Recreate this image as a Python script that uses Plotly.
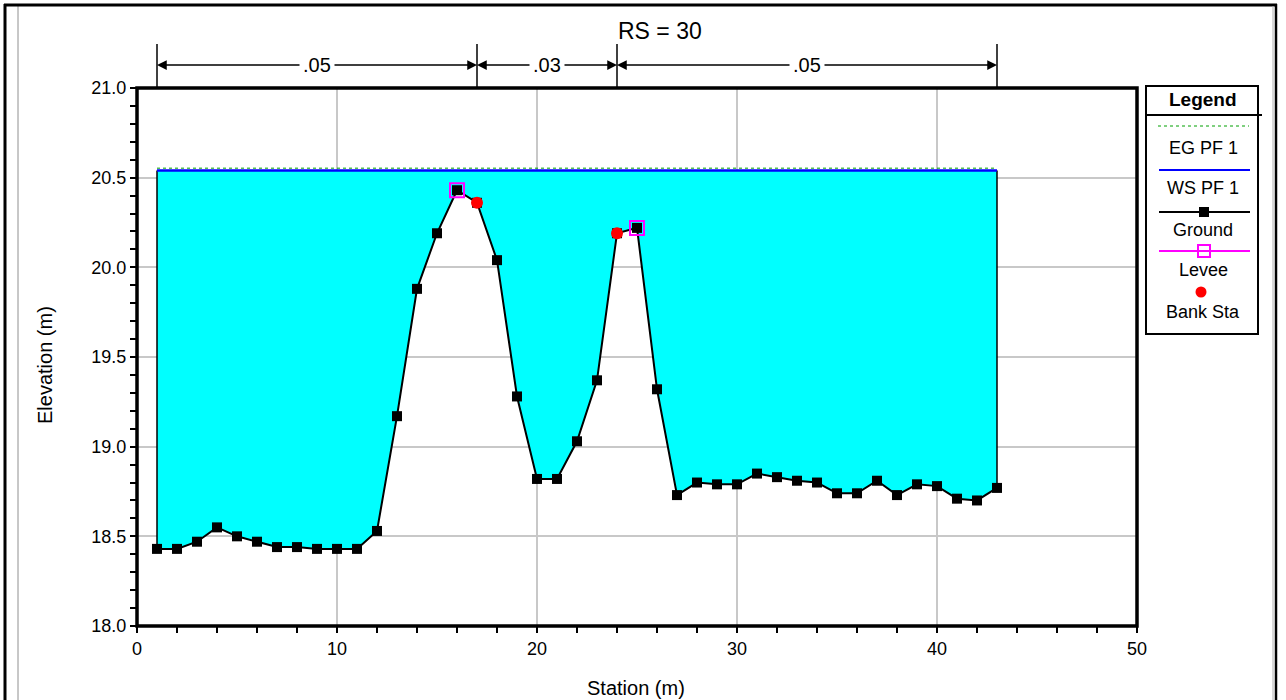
import plotly.graph_objects as go

# ---------------- data ----------------
station = list(range(1, 44))
ground = [18.43, 18.43, 18.47, 18.55, 18.50, 18.47, 18.44, 18.44, 18.43, 18.43,
          18.43, 18.53, 19.17, 19.88, 20.19, 20.43, 20.36, 20.04, 19.28, 18.82,
          18.82, 19.03, 19.37, 20.19, 20.22, 19.32, 18.73, 18.80, 18.79, 18.79,
          18.85, 18.83, 18.81, 18.80, 18.74, 18.74, 18.81, 18.73, 18.79, 18.78,
          18.71, 18.70, 18.77]
ws_elev = 20.54
eg_elev = 20.553
levee_sta = [16, 25]
levee_elev = [20.43, 20.22]
bank_sta = [17, 24]
bank_elev = [20.36, 20.19]
n_breaks = [1, 17, 24, 43]
n_values = [".05", ".03", ".05"]
title_text = "RS = 30"
legend_labels = ["EG PF 1", "WS PF 1", "Ground", "Levee", "Bank Sta"]

FONT = "Liberation Sans, Arial, sans-serif"
W, H = 1286, 700
L, R, T, B = 137, 149, 88, 74
PW, PH = W - L - R, H - T - B


def PX(px):
    return (px - L) / PW


def PY(py):
    return (H - B - py) / PH


fig = go.Figure()

# fill between water surface and ground
fig.add_trace(go.Scatter(x=station, y=[ws_elev] * len(station), mode="lines",
                         line=dict(width=0, color="rgba(0,0,0,0)"),
                         hoverinfo="skip", showlegend=False))
fig.add_trace(go.Scatter(x=station, y=ground, mode="lines", fill="tonexty",
                         fillcolor="#00FFFF", line=dict(width=0, color="rgba(0,0,0,0)"),
                         hoverinfo="skip", showlegend=False))
# end walls
fig.add_trace(go.Scatter(x=[station[0], station[0], None, station[-1], station[-1]],
                         y=[ground[0], ws_elev, None, ground[-1], ws_elev],
                         mode="lines", line=dict(color="black", width=1.5),
                         showlegend=False))
# EG
fig.add_trace(go.Scatter(x=[station[0], station[-1]], y=[eg_elev, eg_elev], mode="lines",
                         line=dict(color="#00A000", width=1, dash="dot"),
                         name=legend_labels[0], showlegend=False))
# WS
fig.add_trace(go.Scatter(x=[station[0], station[-1]], y=[ws_elev, ws_elev], mode="lines",
                         line=dict(color="#0000FF", width=2.5),
                         name=legend_labels[1], showlegend=False))
# Ground
fig.add_trace(go.Scatter(x=station, y=ground, mode="lines+markers",
                         line=dict(color="black", width=2),
                         marker=dict(symbol="square", size=10, color="black"),
                         name=legend_labels[2], showlegend=False))
# Levee
fig.add_trace(go.Scatter(x=levee_sta, y=levee_elev, mode="markers",
                         marker=dict(symbol="square-open", size=14, color="#FF00FF",
                                     line=dict(width=2, color="#FF00FF")),
                         name=legend_labels[3], showlegend=False))
# Bank stations
fig.add_trace(go.Scatter(x=bank_sta, y=bank_elev, mode="markers",
                         marker=dict(symbol="circle", size=12, color="#FF0000"),
                         name=legend_labels[4], showlegend=False))

shapes = []
annotations = []


def text_ann(x, y, text, size, xref="paper", **kw):
    d = dict(x=x, y=y, xref=xref, yref="paper", text=text, showarrow=False,
             xanchor="center", yanchor="middle",
             font=dict(family=FONT, size=size, color="black"))
    d.update(kw)
    return d


# Manning's n reach markers
y_arrow = PY(65)
for s in n_breaks:
    shapes.append(dict(type="line", xref="x", yref="paper", x0=s, x1=s,
                       y0=1.0, y1=PY(44), line=dict(color="black", width=1.5)))
for i, val in enumerate(n_values):
    a, b = n_breaks[i], n_breaks[i + 1]
    mid = (a + b) / 2
    for tip in (a, b):
        annotations.append(dict(x=tip, y=y_arrow, xref="x", yref="paper",
                                ax=mid, ay=0, axref="x", ayref="pixel",
                                text="", showarrow=True, arrowhead=2, arrowsize=1.3,
                                arrowwidth=1.5, arrowcolor="black", standoff=0))
    annotations.append(text_ann(mid, y_arrow, val, 20, xref="x", bgcolor="white",
                                borderpad=3))

# title
annotations.append(text_ann(PX(660), PY(31), title_text, 23))
# axis titles
annotations.append(text_ann(PX(636), PY(688), "Station (m)", 20))
annotations.append(text_ann(PX(45), PY(365), "Elevation (m)", 20, textangle=-90))

# plot frame
shapes.append(dict(type="rect", xref="paper", yref="paper", x0=0, x1=1, y0=0, y1=1,
                   line=dict(color="black", width=3.5), layer="above"))

# outer figure border
shapes.append(dict(type="line", xref="paper", yref="paper", x0=PX(5), x1=PX(5),
                   y0=PY(4), y1=PY(700), line=dict(color="black", width=3)))
shapes.append(dict(type="line", xref="paper", yref="paper", x0=PX(18), x1=PX(18),
                   y0=PY(6), y1=PY(700), line=dict(color="#909090", width=1)))
shapes.append(dict(type="line", xref="paper", yref="paper", x0=PX(4), x1=PX(1277),
                   y0=PY(5), y1=PY(5), line=dict(color="black", width=3)))
shapes.append(dict(type="line", xref="paper", yref="paper", x0=PX(1276), x1=PX(1276),
                   y0=PY(4), y1=PY(700), line=dict(color="black", width=2.5)))
shapes.append(dict(type="line", xref="paper", yref="paper", x0=PX(1273), x1=PX(1273),
                   y0=PY(6), y1=PY(700), line=dict(color="#b0b0b0", width=1)))

# legend box
shapes.append(dict(type="rect", xref="paper", yref="paper", x0=PX(1146), x1=PX(1258),
                   y0=PY(334), y1=PY(86), line=dict(color="black", width=2)))
shapes.append(dict(type="line", xref="paper", yref="paper", x0=PX(1146), x1=PX(1262),
                   y0=PY(115), y1=PY(115), line=dict(color="black", width=2)))
annotations.append(text_ann(PX(1203), PY(100), "<b>Legend</b>", 19))
# EG
shapes.append(dict(type="line", xref="paper", yref="paper", x0=PX(1158), x1=PX(1249),
                   y0=PY(126), y1=PY(126), line=dict(color="#00A000", width=1, dash="dot")))
# WS
shapes.append(dict(type="line", xref="paper", yref="paper", x0=PX(1159), x1=PX(1250),
                   y0=PY(170), y1=PY(170), line=dict(color="#0000FF", width=2)))
# Ground
shapes.append(dict(type="line", xref="paper", yref="paper", x0=PX(1159), x1=PX(1250),
                   y0=PY(212), y1=PY(212), line=dict(color="black", width=2)))
shapes.append(dict(type="rect", xref="paper", yref="paper", x0=PX(1199), x1=PX(1209),
                   y0=PY(217), y1=PY(207), fillcolor="black", line=dict(color="black", width=0)))
# Levee
shapes.append(dict(type="line", xref="paper", yref="paper", x0=PX(1159), x1=PX(1250),
                   y0=PY(251), y1=PY(251), line=dict(color="#FF00FF", width=2)))
shapes.append(dict(type="rect", xref="paper", yref="paper", x0=PX(1198), x1=PX(1210),
                   y0=PY(257), y1=PY(245), line=dict(color="#FF00FF", width=2)))
# Bank Sta
shapes.append(dict(type="circle", xref="paper", yref="paper", x0=PX(1195.5), x1=PX(1206.5),
                   y0=PY(297.5), y1=PY(286.5), fillcolor="#FF0000", line=dict(color="#FF0000", width=0)))

legend_text_y = [148, 188, 230, 270, 312]
for lab, ty in zip(legend_labels, legend_text_y):
    annotations.append(text_ann(PX(1203), PY(ty), lab, 18))

fig.update_layout(
    width=W, height=H,
    margin=dict(l=L, r=R, t=T, b=B, pad=0),
    paper_bgcolor="white", plot_bgcolor="white",
    font=dict(family=FONT, size=18, color="black"),
    showlegend=False,
    shapes=shapes,
    annotations=annotations,
    xaxis=dict(range=[0, 50], dtick=10, tick0=0, showgrid=True, gridcolor="#c8c8c8",
               gridwidth=1.5, zeroline=False, showline=False,
               ticks="outside", ticklen=6, tickwidth=1.5, tickcolor="black",
               tickfont=dict(family=FONT, size=18),
               minor=dict(dtick=2, ticks="outside", ticklen=6, tickwidth=1.5,
                          tickcolor="black", showgrid=False)),
    yaxis=dict(range=[18, 21], dtick=0.5, tick0=18, tickformat=".1f", showgrid=True,
               gridcolor="#c8c8c8", gridwidth=1.5, zeroline=False, showline=False,
               ticks="outside", ticklen=6, tickwidth=1.5, tickcolor="black",
               tickfont=dict(family=FONT, size=18),
               minor=dict(dtick=0.1, ticks="outside", ticklen=6, tickwidth=1.5,
                          tickcolor="black", showgrid=False)),
)

fig.write_html("out.html", config={"displayModeBar": False},
               post_script="document.body.style.margin='0px';")
